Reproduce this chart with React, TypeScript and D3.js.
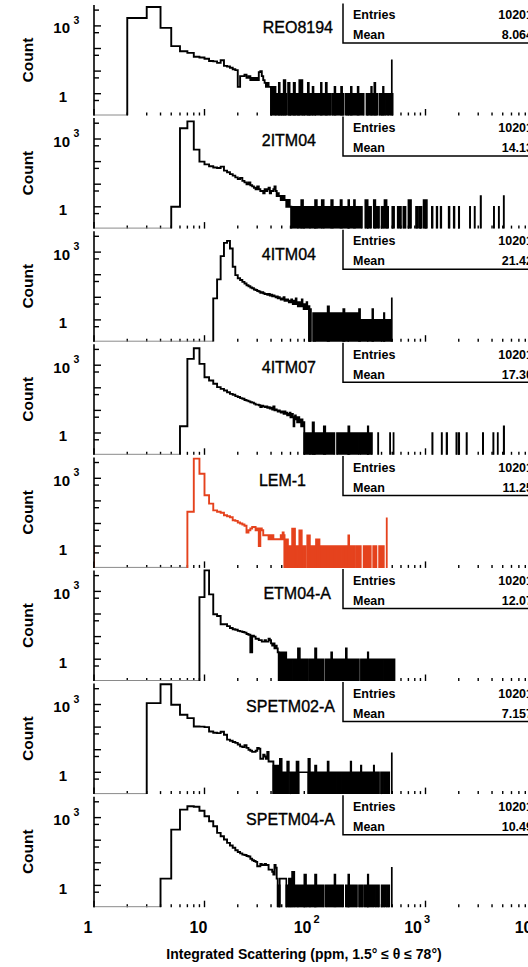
import React from "react";
import * as d3 from "d3";

const WIDTH = 528;
const HEIGHT = 967;

// sample names, one panel per sample, top to bottom
const sampleNames = ["REO8194", "2ITM04", "4ITM04", "4ITM07", "LEM-1", "ETM04-A", "SPETM02-A", "SPETM04-A"];
const entryCounts = [10201, 10201, 10201, 10201, 10201, 10201, 10201, 10201];
const meanValues = ["8.064", "14.13", "21.42", "17.30", "11.25", "12.07", "7.157", "10.49"];
const highlightSample = "LEM-1";

// counts in 1-ppm bins, the first bin of each sample starts at firstBins[i]
const firstBins = [2, 5, 12, 6, 7, 9, 3, 4];

const reo8194Counts = [2240, 6900, 815, 127, 76, 64, 43, 40, 35, 28, 27, 23, 30, 17, 16, 14, 12, 11, 2, 6, 6, 7, 5, 6, 4, 5, 4, 5, 4, 9, 10, 6, 4, 3, 2, 3, 2, 2];
const itm2Counts = [1, 3000, 6000, 340, 100, 75, 62, 55, 52, 60, 40, 34, 28, 24, 20, 17, 19, 14, 12, 10, 12, 9, 8, 7, 6, 8, 6, 5, 5, 4, 6, 5, 6, 7, 4, 5, 5, 6, 8, 5, 3, 4, 3, 3, 2, 3, 2, 3, 2, 2, 1, 2, 1, 2, 1, 1];
const itm4Counts = [9, 62, 665, 2570, 3150, 1450, 225, 96, 70, 58, 48, 41, 34, 31, 27, 25, 22, 21, 19, 18, 16, 17, 15, 14, 14, 13, 14, 12, 13, 11, 12, 11, 10, 11, 9, 10, 9, 8, 9, 8, 10, 7, 8, 7, 8, 7, 6, 7, 6, 8, 6, 5, 7, 6, 5, 9, 5, 6, 4, 5, 6, 4, 5, 4, 8, 4, 5, 3, 4, 5, 3, 4, 6, 3, 4, 3, 4];
const itm7Counts = [2, 1900, 5600, 1140, 295, 210, 150, 107, 90, 76, 64, 54, 49, 43, 39, 35, 33, 29, 27, 25, 23, 22, 20, 18, 18, 17, 14, 16, 15, 14, 15, 13, 14, 12, 13, 11, 15, 10, 11, 10, 9, 10, 9, 8, 9, 8, 7, 9, 7, 8, 6, 7, 6, 8, 5, 6, 7, 5, 2, 5, 6, 4, 5, 3, 4, 5, 3, 4, 3, 2, 4, 3, 2, 3];
const lem1Counts = [33, 7400, 1600, 178, 76, 38, 33, 30, 23, 21, 19, 14, 13, 11, 10, 9, 8, 4, 5, 6, 7, 7, 5, 6, 1, 6, 5, 3, 3, 3, 3, 2, 3, 2, 3, 2, 2, 2, 2, 2, 2, 2, 3, 2, 4, 3];
const etm4Counts = [560, 8500, 740, 97, 81, 35, 35, 29, 24, 21, 20, 18, 17, 16, 15, 13, 12, 2, 11, 10, 8, 8, 7, 7, 6, 6, 7, 6, 6, 8, 7, 5, 4, 5, 3, 4, 3, 2];
const spetm2Counts = [1150, 7900, 970, 350, 250, 107, 105, 100, 64, 56, 54, 62, 46, 28, 25, 22, 20, 17, 14, 13, 16, 12, 10, 9, 8, 8, 9, 12, 11, 4, 4, 6, 5, 4, 8, 3, 3, 3, 3];
const spetm4Counts = [2, 295, 2250, 3200, 3000, 2000, 1150, 690, 415, 210, 150, 107, 76, 58, 46, 36, 30, 26, 23, 22, 20, 19, 15, 13, 12, 11, 7, 7, 9, 8, 8, 9, 8, 8, 5, 5, 5, 4, 3, 8, 6, 2];

// sparse high-value tail: [from ppm, to ppm, count, scattered]
// scattered = 1: occupied and empty 1-ppm bins alternate (drawn solid),
// scattered = 0: every bin of the run holds the same count (outline only)
type Run = [number, number, number, number?];
const reo8194Tail: Run[] = [[40, 44, 2], [44, 47, 1], [47, 48, 3], [48, 52, 1], [52, 54, 4], [54, 55, 1], [57, 59, 3], [59, 64, 1], [64, 66, 3], [66, 72, 1], [72, 77, 4], [77, 86, 1], [86, 88, 3], [88, 95, 1], [95, 97, 2], [100, 113, 1], [113, 115, 3], [115, 125, 1], [125, 128, 3], [128, 138, 1], [143, 150, 1], [150, 153, 2], [153, 172, 1], [172, 176, 2], [176, 182, 1], [190, 211, 1], [211, 215, 2], [215, 243, 1], [243, 248, 2], [248, 276, 1], [292, 322, 1], [322, 327, 2], [327, 344, 1], [344, 352, 3], [352, 366, 1], [382, 412, 1], [412, 418, 2], [418, 438, 1], [452, 468, 1], [482, 490, 1], [495, 496, 30], [498, 505, 1]];
const itm2Tail: Run[] = [[61, 75, 1], [75, 78, 2], [78, 100, 1], [100, 104, 2], [104, 115, 1], [115, 120, 2], [120, 140, 1], [140, 145, 2], [145, 170, 1], [170, 175, 2], [175, 200, 1], [200, 204, 2], [204, 225, 1], [225, 230, 2], [230, 266, 1], [285, 300, 2], [300, 322, 1], [340, 352, 2], [352, 380, 1], [400, 420, 1], [425, 445, 2], [445, 460, 1], [500, 520, 1], [560, 600, 1], [630, 660, 1], [700, 740, 2], [820, 850, 1], [880, 920, 1], [960, 1030, 2], [1140, 1160, 1], [1260, 1280, 1], [1370, 1390, 1], [1620, 1650, 1], [1800, 1830, 1], [2000, 2020, 1], [2520, 2540, 1], [2780, 2800, 1], [3150, 3180, 3], [4150, 4180, 1], [4600, 4630, 1], [5100, 5130, 3]];
const itm4Tail: Run[] = [[88, 92, 3], [96, 130, 2], [130, 134, 4], [134, 180, 2], [180, 185, 3], [185, 250, 2], [250, 256, 3], [256, 330, 1], [330, 336, 3], [336, 420, 1], [420, 425, 2], [425, 492, 1], [495, 496, 9]];
const itm7Tail: Run[] = [[80, 95, 1], [95, 98, 3], [98, 120, 1], [120, 124, 2], [124, 150, 1], [158, 200, 1], [200, 205, 2], [205, 250, 1], [255, 300, 1], [300, 304, 2], [304, 328, 1], [372, 374, 1], [477, 479, 1], [513, 515, 1], [1150, 1160, 1], [1400, 1410, 1], [1550, 1570, 1], [1900, 1920, 1], [2000, 2020, 1], [2350, 2370, 1], [3300, 3330, 1], [4100, 4130, 1], [4500, 4520, 1], [5100, 5150, 2]];
const lem1Tail: Run[] = [[0.5, 1, 1], [53, 57, 2], [57, 60, 1], [62, 66, 6], [66, 70, 1], [72, 76, 5], [76, 82, 1], [85, 90, 3], [90, 100, 1], [102, 110, 2], [110, 130, 1], [132, 150, 1], [155, 175, 1], [180, 200, 1], [200, 204, 3], [204, 228, 1], [236, 260, 1], [275, 320, 1], [336, 360, 1], [380, 420, 1], [445, 447, 17]];
const etm4Tail: Run[] = [[47, 55, 2], [55, 60, 1], [62, 70, 1], [70, 73, 3], [73, 85, 1], [88, 100, 1], [100, 103, 3], [103, 120, 1], [125, 140, 1], [140, 143, 2], [143, 165, 1], [170, 190, 1], [190, 194, 3], [194, 215, 1], [222, 250, 1], [260, 300, 1], [300, 304, 2], [304, 330, 1], [340, 380, 1], [390, 420, 1], [430, 470, 1], [480, 525, 1]];
const spetm2Tail: Run[] = [[42, 48, 2], [48, 50, 4], [50, 56, 1], [56, 58, 3], [60, 68, 1], [68, 71, 3], [71, 87, 1, 0], [87, 90, 4], [90, 100, 1], [100, 103, 2], [106, 130, 1], [130, 133, 3], [133, 150, 1], [155, 175, 1], [180, 210, 1], [210, 213, 3], [213, 240, 1], [245, 260, 1], [260, 263, 2], [263, 300, 1], [305, 340, 1], [340, 343, 2], [345, 380, 1], [395, 420, 1], [430, 470, 1], [495, 496, 7]];
const spetm4Tail: Run[] = [[46, 48, 1], [48, 55, 2, 0], [55, 58, 1], [58, 62, 2], [62, 65, 4], [65, 80, 1], [80, 83, 3], [83, 100, 1], [100, 103, 3], [103, 120, 1], [125, 150, 1], [150, 153, 3], [153, 180, 1], [190, 200, 1], [200, 204, 3], [204, 240, 1], [250, 270, 1], [280, 300, 1], [300, 304, 3], [304, 340, 1], [350, 380, 1], [400, 430, 1], [440, 470, 1], [495, 496, 6]];

const binCounts = [reo8194Counts, itm2Counts, itm4Counts, itm7Counts, lem1Counts, etm4Counts, spetm2Counts, spetm4Counts];
const tailRuns = [reo8194Tail, itm2Tail, itm4Tail, itm7Tail, lem1Tail, etm4Tail, spetm2Tail, spetm4Tail];

// axis ticks
const xDecades = [1, 10, 100, 1000, 10000];
const xTickLabels = ["1", "10", "10|2", "10|3", "10|4"];
const yDecades = [1, 10, 100, 1000];
const yHalfDecades = [0.5, 5, 50, 500, 5000];

// layout
const PLOT_LEFT = 94;
const FIRST_BOTTOM = 115.5;
const PANEL_PITCH = 113.1;
const PANEL_H = 110.5;
const LABEL_X = [333, 316, 316, 316, 306, 331, 335, 335];
const FONT = "'Liberation Sans', Arial, Helvetica, sans-serif";
const RED = "#e5421d";

function Panel({ index }: { index: number }) {
  const bottom = FIRST_BOTTOM + PANEL_PITCH * index;
  const top = bottom - PANEL_H;
  const x = d3.scaleLog().domain([1, 1e4]).range([PLOT_LEFT, 536]);
  const y = d3.scaleLog().domain([Math.pow(10, -0.965), Math.pow(10, 3.925)]).range([bottom, top]);
  const color = sampleNames[index] === highlightSample ? RED : "#000";
  const first = firstBins[index];
  const counts = binCounts[index];

  let main = `M${x(first)},${bottom}`;
  counts.forEach((c, i) => {
    const yy = c > 0 ? y(c) : bottom;
    main += `L${x(first + i)},${yy}L${x(first + i + 1)},${yy}`;
  });
  main += `L${x(first + counts.length)},${bottom}`;

  const runPath = ([a, b, c]: Run) => `M${x(a)},${bottom + 1}L${x(a)},${y(c)}L${x(b)},${y(c)}L${x(b)},${bottom + 1}`;
  const runs = tailRuns[index];
  const scattered = runs.filter((r) => r[3] !== 0).map((r) => runPath(r) + "Z").join("");
  const contiguous = runs.filter((r) => r[3] === 0).map(runPath).join("");

  const clipId = `clip${index}`;
  const minor: number[] = [];
  for (let d = 1; d < 1e4; d *= 10) for (let k = 2; k <= 9; k++) minor.push(d * k);

  return (
    <g>
      <defs>
        <clipPath id={clipId}>
          <rect x={PLOT_LEFT} y={top - 3} width={WIDTH} height={PANEL_H + 3} />
        </clipPath>
      </defs>
      {/* x ticks */}
      {minor.map((v) => (
        <line key={"m" + v} x1={x(v)} x2={x(v)} y1={bottom} y2={bottom - 3} stroke="#000" strokeWidth={1.4} />
      ))}
      {xDecades.map((v) => (
        <line key={"M" + v} x1={x(v)} x2={x(v)} y1={bottom} y2={bottom - 6.5} stroke="#000" strokeWidth={1.4} />
      ))}
      {/* zero level before the first bin */}
      <line x1={PLOT_LEFT} x2={x(first)} y1={bottom - 0.5} y2={bottom - 0.5} stroke="#8a8a8a" strokeWidth={1} />
      <g clipPath={`url(#${clipId})`}>
        <path d={scattered} fill={color} stroke={color} strokeWidth={1.6} strokeLinejoin="miter" />
        <path d={contiguous} fill="none" stroke={color} strokeWidth={1.6} strokeLinejoin="miter" />
        <path d={main} fill="none" stroke={color} strokeWidth={1.9} strokeLinejoin="miter" />
      </g>
      {/* y axis */}
      <line x1={PLOT_LEFT} x2={PLOT_LEFT} y1={top} y2={bottom} stroke="#000" strokeWidth={1.6} />
      {yDecades.map((v) => (
        <line key={"y" + v} x1={PLOT_LEFT} x2={PLOT_LEFT + 7} y1={y(v)} y2={y(v)} stroke="#000" strokeWidth={1.4} />
      ))}
      {yHalfDecades.map((v) => (
        <line key={"h" + v} x1={PLOT_LEFT} x2={PLOT_LEFT + 5} y1={y(v)} y2={y(v)} stroke="#000" strokeWidth={1.4} />
      ))}
      <text x={70} y={y(1000) + 7.5} fontSize={15} fontWeight="bold" textAnchor="end">10</text>
      <text x={73.5} y={y(1000) - 2} fontSize={10.5} fontWeight="bold">3</text>
      <text x={67} y={y(1) + 8.5} fontSize={15} fontWeight="bold" textAnchor="end">1</text>
      <text transform={`translate(32.5,${bottom - 55.5}) rotate(-90)`} fontSize={15.5} fontWeight="bold" textAnchor="middle">Count</text>
      {/* sample name */}
      <text x={LABEL_X[index]} y={bottom - 82.2} fontSize={16} textAnchor="end" stroke="#000" strokeWidth={0.35}>{sampleNames[index]}</text>
      {/* statistics box */}
      <rect x={343} y={bottom - 112} width={200} height={39.5} fill="#fff" />
      <path d={`M343,${bottom - 112}L343,${bottom - 72.5}L540,${bottom - 72.5}`} fill="none" stroke="#000" strokeWidth={1.5} />
      <text x={353} y={bottom - 96.3} fontSize={12.5} fontWeight="bold">Entries</text>
      <text x={353} y={bottom - 76.3} fontSize={12.5} fontWeight="bold">Mean</text>
      <text x={533} y={bottom - 96.3} fontSize={12.5} fontWeight="bold" textAnchor="end">{entryCounts[index]}</text>
      <text x={533} y={bottom - 76.3} fontSize={12.5} fontWeight="bold" textAnchor="end">{meanValues[index]}</text>
    </g>
  );
}

export default function App() {
  const x = d3.scaleLog().domain([1, 1e4]).range([PLOT_LEFT, 536]);
  const lastBottom = FIRST_BOTTOM + PANEL_PITCH * (sampleNames.length - 1);
  const labelY = lastBottom + 26;
  return (
    <svg width={WIDTH} height={HEIGHT} style={{ position: "absolute", left: 0, top: 0, background: "#fff" }} fontFamily={FONT}>
      <rect width={WIDTH} height={HEIGHT} fill="#fff" />
      {sampleNames.map((_, i) => (
        <Panel key={i} index={i} />
      ))}
      {xTickLabels.map((t, i) => {
        const px = x(xDecades[i]);
        const [base, exp] = t.split("|");
        if (!exp) {
          return (
            <text key={t} x={px - 6} y={labelY} fontSize={16} fontWeight="bold" textAnchor="middle">{base}</text>
          );
        }
        return (
          <g key={t}>
            <text x={px - 3.5} y={labelY} fontSize={16} fontWeight="bold" textAnchor="end">{base}</text>
            <text x={px - 1.5} y={labelY - 10.5} fontSize={11} fontWeight="bold">{exp}</text>
          </g>
        );
      })}
      <text x={304} y={959} fontSize={14} fontWeight="bold" textAnchor="middle">
        Integrated Scattering (ppm, 1.5° ≤ θ ≤ 78°)
      </text>
    </svg>
  );
}
